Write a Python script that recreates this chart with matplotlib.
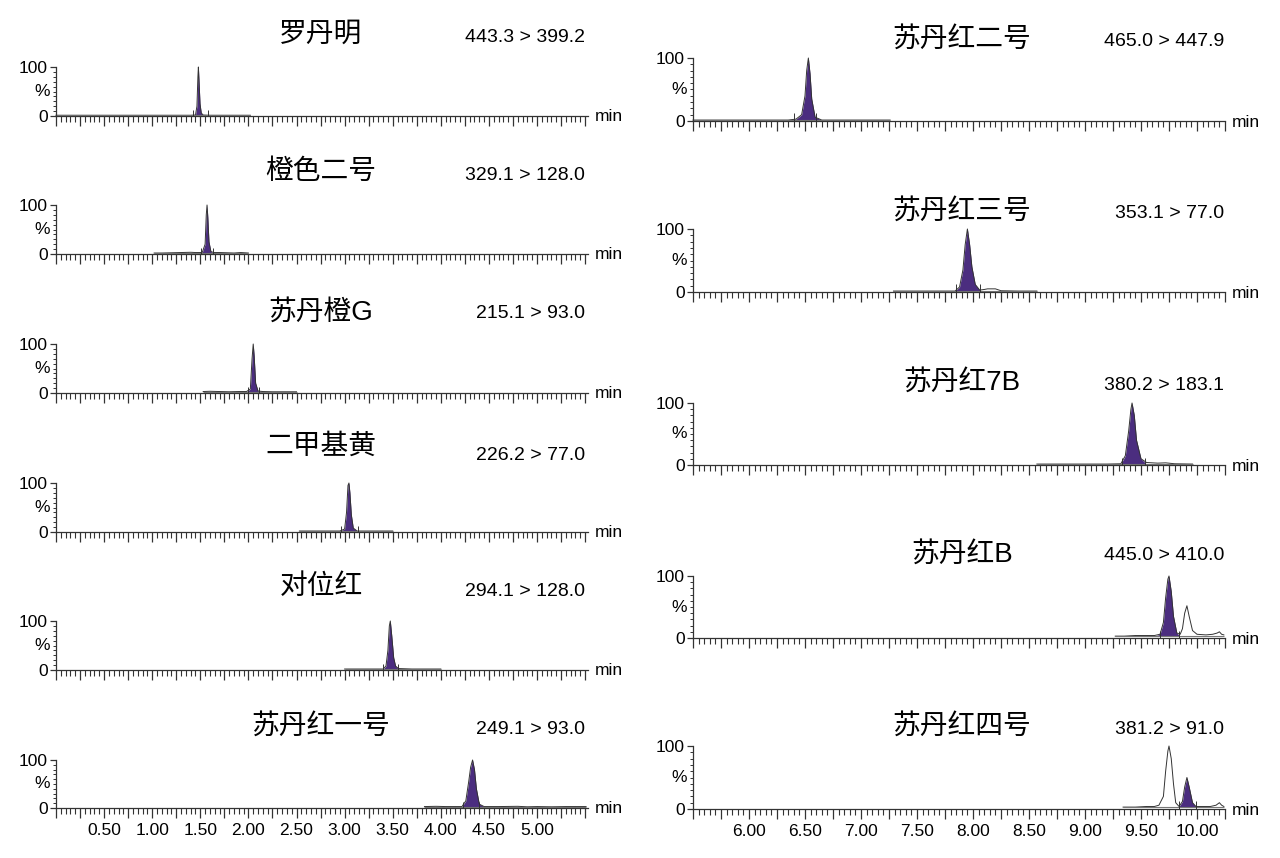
import numpy as np
import matplotlib
matplotlib.use("Agg")
import matplotlib.pyplot as plt
from matplotlib.ticker import MultipleLocator, FixedLocator, FuncFormatter

plt.rcParams['font.family'] = ['Liberation Sans', 'Noto Sans CJK SC', 'DejaVu Sans']

# 左列（0 - 5.5 min）
left_names = ["罗丹明", "橙色二号", "苏丹橙G", "二甲基黄", "对位红", "苏丹红一号"]
left_mrm = ["443.3 > 399.2", "329.1 > 128.0", "215.1 > 93.0",
            "226.2 > 77.0", "294.1 > 128.0", "249.1 > 93.0"]
left_ticklabels = ["0.50", "1.00", "1.50", "2.00", "2.50", "3.00", "3.50", "4.00", "4.50", "5.00"]

# 右列（5.5 - 10.25 min）
right_names = ["苏丹红二号", "苏丹红三号", "苏丹红7B", "苏丹红B", "苏丹红四号"]
right_mrm = ["465.0 > 447.9", "353.1 > 77.0", "380.2 > 183.1", "445.0 > 410.0", "381.2 > 91.0"]
right_ticklabels = ["6.00", "6.50", "7.00", "7.50", "8.00", "8.50", "9.00", "9.50", "10.00"]

# 色谱图（保留时间 min, 相对强度 %）
rt_l1 = [0.00, 0.25, 0.50, 0.75, 1.00, 1.25, 1.40, 1.45, 1.465, 1.475, 1.48, 1.487, 1.497, 1.51, 1.53, 1.60, 1.80, 2.02]
y_l1 = [1.5, 1.5, 1.5, 1.5, 1.5, 1.5, 1.5, 2, 20, 80, 100, 70, 25, 6, 2, 1.5, 1.5, 1.5]
rt_l2 = [1.02, 1.10, 1.20, 1.30, 1.40, 1.45, 1.52, 1.55, 1.562, 1.57, 1.578, 1.59, 1.61, 1.64, 1.70, 1.78, 1.85, 1.92, 2.00]
y_l2 = [2, 2, 2.5, 3, 3.5, 3, 3, 20, 80, 100, 75, 25, 5, 3, 3, 2.5, 2, 3, 2]
rt_l3 = [1.53, 1.60, 1.70, 1.80, 1.90, 1.98, 2.02, 2.038, 2.05, 2.06, 2.075, 2.10, 2.15, 2.25, 2.35, 2.50]
y_l3 = [3, 3.5, 3, 2.5, 3, 3, 8, 70, 100, 75, 20, 4, 3, 2.5, 2.5, 2.5]
rt_l4 = [2.53, 2.70, 2.85, 2.95, 3.00, 3.02, 3.035, 3.045, 3.055, 3.07, 3.09, 3.13, 3.25, 3.40, 3.50]
y_l4 = [2, 2, 2, 2, 6, 40, 95, 100, 80, 35, 8, 2, 2, 2, 2]
rt_l5 = [3.00, 3.15, 3.30, 3.40, 3.43, 3.45, 3.465, 3.475, 3.49, 3.51, 3.53, 3.56, 3.70, 3.85, 4.00]
y_l5 = [2, 2, 2, 2, 8, 40, 90, 100, 70, 25, 8, 3, 2, 2, 2]
rt_l6 = [3.83, 3.95, 4.05, 4.15, 4.22, 4.26, 4.29, 4.31, 4.33, 4.35, 4.37, 4.40, 4.45, 4.60, 4.80, 4.90, 5.00, 5.15, 5.30, 5.51]
y_l6 = [3, 3.5, 3, 3, 3, 15, 55, 85, 100, 80, 40, 8, 3, 3, 3.5, 2.5, 3, 2.5, 3, 3]

rt_r1 = [5.50, 5.80, 6.10, 6.35, 6.42, 6.47, 6.50, 6.515, 6.53, 6.545, 6.56, 6.59, 6.65, 6.90, 7.26]
y_r1 = [1.5, 1.5, 1.5, 1.5, 3, 10, 40, 80, 100, 75, 35, 6, 1.5, 1.5, 1.5]
rt_r2 = [7.29, 7.50, 7.70, 7.84, 7.88, 7.91, 7.93, 7.95, 7.97, 7.99, 8.02, 8.06, 8.10, 8.13, 8.20, 8.25, 8.40, 8.57]
y_r2 = [1.5, 1.5, 1.5, 1.5, 8, 35, 75, 100, 75, 40, 12, 3, 4, 5, 5, 2, 1.5, 1.5]
rt_r3 = [8.57, 8.80, 9.00, 9.20, 9.32, 9.36, 9.39, 9.41, 9.42, 9.44, 9.46, 9.50, 9.55, 9.65, 9.72, 9.80, 9.96]
y_r3 = [1.5, 1.5, 1.5, 1.5, 2, 15, 55, 90, 100, 80, 40, 10, 4, 3, 3.5, 2, 1.5]
rt_r4 = [9.27, 9.35, 9.45, 9.55, 9.62, 9.67, 9.70, 9.72, 9.74, 9.75, 9.77, 9.79, 9.82, 9.85, 9.87, 9.89, 9.91,
         9.93, 9.96, 10.00, 10.08, 10.14, 10.18, 10.20, 10.22, 10.24]
y_r4 = [3, 3, 4, 4, 4, 6, 25, 65, 95, 100, 75, 35, 8, 6, 15, 40, 52, 35, 12, 6, 5, 6, 8, 10, 6, 5]
rt_r5 = [9.34, 9.45, 9.55, 9.62, 9.66, 9.70, 9.72, 9.74, 9.75, 9.77, 9.79, 9.81, 9.84, 9.87, 9.89, 9.91, 9.93,
         9.96, 9.99, 10.05, 10.12, 10.17, 10.20, 10.22, 10.24]
y_r5 = [3, 3, 4, 4, 6, 20, 60, 92, 100, 80, 40, 10, 4, 12, 35, 50, 35, 10, 4, 4, 4, 6, 10, 6, 4]

# 积分区间（起点, 终点）
left_integ = [(1.42, 1.58), (1.51, 1.63), (2.00, 2.11), (2.96, 3.14), (3.40, 3.55), (4.23, 4.40)]
right_integ = [(6.40, 6.60), (7.85, 8.06), (9.33, 9.54), (9.67, 9.84), (9.84, 9.99)]

left_traces = [(rt_l1, y_l1), (rt_l2, y_l2), (rt_l3, y_l3), (rt_l4, y_l4), (rt_l5, y_l5), (rt_l6, y_l6)]
right_traces = [(rt_r1, y_r1), (rt_r2, y_r2), (rt_r3, y_r3), (rt_r4, y_r4), (rt_r5, y_r5)]

W, H = 1280, 858
fig = plt.figure(figsize=(W / 100, H / 100), dpi=100)
purple = '#4b2d7f'
dark = '#333333'


def panel(px_left, px_right, px_zero, px_full, xlim, traces, integ, labels=None):
    ax = fig.add_axes([px_left / W, 1 - px_zero / H, (px_right - px_left) / W, (px_zero - px_full) / H])
    rt, y = np.array(traces[0]), np.array(traces[1])
    base = y[0]
    ax.plot(rt, y, color=dark, lw=0.7, clip_on=False)
    ax.hlines(base, rt[0], rt[-1], color='#777777', lw=0.8)
    s, e = integ
    m = (rt >= s) & (rt <= e)
    ax.fill_between(rt, base, y, where=m, interpolate=True, color=purple, lw=0)
    ax.vlines([s, e], 0, 12, color=dark, lw=0.7)
    ax.set_xlim(*xlim)
    ax.set_ylim(0, 100)
    for sp in ['top', 'right']:
        ax.spines[sp].set_visible(False)
    for sp in ['left', 'bottom']:
        ax.spines[sp].set_linewidth(0.9)
        ax.spines[sp].set_color(dark)
    ax.xaxis.set_major_locator(MultipleLocator(0.25))
    ax.xaxis.set_minor_locator(MultipleLocator(0.05))
    if labels:
        lab = {round(float(t), 2): t for t in labels}
        ax.xaxis.set_major_formatter(FuncFormatter(lambda v, p: lab.get(round(v, 2), '')))
    else:
        ax.xaxis.set_major_formatter(FuncFormatter(lambda v, p: ''))
    ax.tick_params(axis='x', which='major', length=7, width=0.9, color=dark, labelsize=12.5, pad=4)
    ax.tick_params(axis='x', which='minor', length=4, width=0.8, color=dark)
    ax.yaxis.set_major_locator(FixedLocator([0, 100]))
    ax.yaxis.set_minor_locator(MultipleLocator(10))
    ax.set_yticklabels(['0', '100'])
    ax.tick_params(axis='y', which='major', length=4, width=0.9, color=dark, labelsize=12.5, pad=2)
    ax.tick_params(axis='y', which='minor', length=2, width=0.7, color=dark)
    ax.text(-0.012, 0.5, '%', transform=ax.transAxes, ha='right', va='center', fontsize=12.5)
    ax.text(1.012, -0.02, 'min', transform=ax.transAxes, ha='left', va='center', fontsize=12.5)
    return ax


# 版面（像素）
left_zero = [116, 254, 393, 532, 670, 808]
left_full = [67, 205, 344, 483, 621, 760]
left_title_y = [35, 172, 313, 447, 587, 727]
left_mrm_y = [38, 176, 314, 455, 592, 730]
right_zero = [121, 292, 465, 638, 809]
right_full = [58, 229, 403, 576, 746]
right_title_y = [40, 212, 383, 555, 727]
right_mrm_y = [42, 213, 386, 556, 729]

for i in range(len(left_names)):
    panel(56, 588, left_zero[i], left_full[i], (0.0, 5.53), left_traces[i], left_integ[i],
          left_ticklabels if i == len(left_names) - 1 else None)
    fig.text(321 / W, 1 - left_title_y[i] / H, left_names[i], ha='center', va='center', fontsize=20)
    fig.text(585 / W, 1 - left_mrm_y[i] / H, left_mrm[i], ha='right', va='center', fontsize=14)

for i in range(len(right_names)):
    panel(693, 1225, right_zero[i], right_full[i], (5.5, 10.25), right_traces[i], right_integ[i],
          right_ticklabels if i == len(right_names) - 1 else None)
    fig.text(962 / W, 1 - right_title_y[i] / H, right_names[i], ha='center', va='center', fontsize=20)
    fig.text(1224 / W, 1 - right_mrm_y[i] / H, right_mrm[i], ha='right', va='center', fontsize=14)

fig.savefig("out.png", dpi=100, facecolor='white')
